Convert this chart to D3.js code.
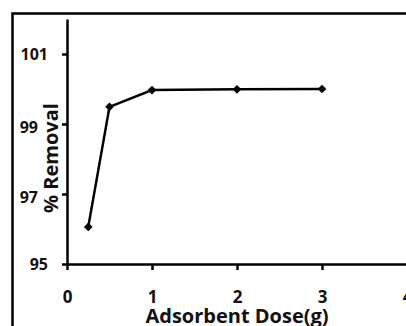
<!DOCTYPE html>
<html>
<head>
<meta charset="utf-8">
<script src="https://cdn.jsdelivr.net/npm/d3@7"></script>
<style>
  html, body { margin: 0; padding: 0; background: #fff; }
  svg { display: block; }
  text { font-family: "Open Sans", "Noto Sans", sans-serif; font-weight: bold; fill: #111; }
</style>
</head>
<body>
<script>
// Removal efficiency versus adsorbent dose
const doses = [0.25, 0.5, 1, 2, 3];
const removal = [96.06, 99.49, 99.97, 99.99, 100.0];
const xTicks = [0, 1, 2, 3, 4];
const yTicks = [95, 97, 99, 101];
const xTitle = "Adsorbent Dose(g)";
const yTitle = "% Removal";

const W = 406, H = 326;
const svg = d3.select("body").append("svg").attr("width", W).attr("height", H);

// outer frame (runs off the right and bottom edges)
svg.append("rect")
  .attr("x", 12.5).attr("y", 13.5)
  .attr("width", 600).attr("height", 600)
  .attr("fill", "none").attr("stroke", "#000").attr("stroke-width", 2.5);

const x = d3.scaleLinear().domain([0, 4]).range([67, 407]);
const y = d3.scaleLinear().domain([95, 102]).range([264, 19]);

// y-axis title (rotated)
const yTitleCx = 50, yTitleCy = 158;
const yt = svg.append("text")
  .attr("transform", `translate(${yTitleCx + 8},${yTitleCy}) rotate(-90)`)
  .attr("text-anchor", "middle")
  .style("font-size", "20px")
  .text(yTitle);
const ytLen = yt.node().getComputedTextLength();

// x axis
const xAxis = svg.append("g")
  .attr("transform", `translate(0,${y(95)})`)
  .call(d3.axisBottom(x).tickValues(xTicks).tickSize(6).tickSizeOuter(0).tickFormat(d3.format("d")));
xAxis.select(".domain").attr("stroke", "#000").attr("stroke-width", 2.5);
xAxis.selectAll(".tick line").attr("stroke", "#000").attr("stroke-width", 2.5);
xAxis.selectAll(".tick text")
  .attr("y", 33).attr("dy", "0.35em")
  .style("font-size", "17px");

// y axis
const yAxis = svg.append("g")
  .attr("transform", `translate(${x(0)},0)`)
  .call(d3.axisLeft(y).tickValues(yTicks).tickSize(5).tickSizeOuter(0).tickFormat(d3.format("d")));
yAxis.select(".domain").attr("stroke", "#000").attr("stroke-width", 2.5);
yAxis.selectAll(".tick line").attr("stroke", "#000").attr("stroke-width", 2.5);
yAxis.selectAll(".tick text")
  .attr("x", -19).attr("dy", "0.35em")
  .style("font-size", "16px");

// labels that fall beside the rotated title are moved to its left
const titleTop = yTitleCy - ytLen / 2, titleBottom = yTitleCy + ytLen / 2;
yAxis.selectAll(".tick").each(function(d) {
  const py = y(d);
  if (py > titleTop - 6 && py < titleBottom + 6) {
    d3.select(this).select("text").attr("x", -(x(0) - 38)).attr("dy", "0.55em");
  }
});

// x-axis title
svg.append("text")
  .attr("x", 237).attr("y", 323)
  .attr("text-anchor", "middle")
  .style("font-size", "20px")
  .text(xTitle);

// data line
const pts = doses.map((d, i) => [d, removal[i]]);
svg.append("path")
  .datum(pts)
  .attr("fill", "none").attr("stroke", "#000").attr("stroke-width", 2.5)
  .attr("d", d3.line().x(d => x(d[0])).y(d => y(d[1])));

// diamond markers (rotated squares)
svg.selectAll(".mk").data(pts).enter().append("path")
  .attr("class", "mk")
  .attr("transform", d => `translate(${x(d[0])},${y(d[1])}) rotate(45)`)
  .attr("d", d3.symbol(d3.symbolSquare, 38))
  .attr("fill", "#000");
</script>
</body>
</html>
